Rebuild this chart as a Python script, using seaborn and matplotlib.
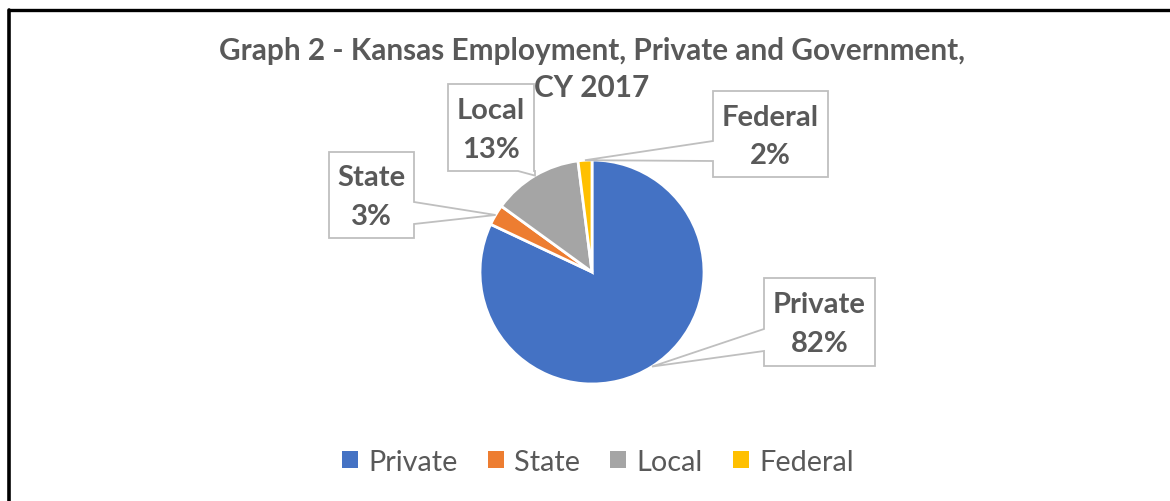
import numpy as np
import matplotlib
matplotlib.use('Agg')
import matplotlib.pyplot as plt
from matplotlib.patches import Polygon
from matplotlib.lines import Line2D
import seaborn as sns

# data
sectors = ['Private', 'State', 'Local', 'Federal']
shares = [82, 3, 13, 2]
colors = ['#4472C4', '#ED7D31', '#A5A5A5', '#FFC000']

title_lines = ['Graph 2 - Kansas Employment, Private and Government,', 'CY 2017']

sns.set_theme(style='white')
plt.rcParams['font.family'] = ['Lato', 'DejaVu Sans']
text_color = '#595959'

W, H = 1170, 502
fig = plt.figure(figsize=(W / 100, H / 100), dpi=100)
fig.patch.set_facecolor('white')

# pie axes: square box in pixels so aspect stays put
cx, cy, r = 592, 273, 112
ax = fig.add_axes([(cx - r) / W, (H - cy - r) / H, 2 * r / W, 2 * r / H])
wedges, _ = ax.pie(shares, colors=colors, startangle=90, counterclock=False,
                   wedgeprops=dict(edgecolor='white', linewidth=2))
ax.set_xlim(-1, 1)
ax.set_ylim(-1, 1)
ax.axis('off')

# overlay in pixel coordinates (y down) for title, callouts, border
ov = fig.add_axes([0, 0, 1, 1], zorder=5)
ov.set_xlim(0, W)
ov.set_ylim(H, 0)
ov.axis('off')

ov.text(592, 60, title_lines[0], ha='center', va='baseline', fontsize=21.4,
        fontweight='bold', color=text_color)
ov.text(592, 97, title_lines[1], ha='center', va='baseline', fontsize=21.4,
        fontweight='bold', color=text_color)

# callout boxes: (left, top, right, bottom), side of the pointer, pointer base span
boxes = {
    'Private': ((764, 279, 875, 367), 'left', (330, 352)),
    'State': ((329, 153, 414, 239), 'right', (203, 225)),
    'Local': ((448, 85, 534, 172), 'bottom', (518, 535)),
    'Federal': ((713, 92, 828, 178), 'left', (142, 162)),
}

to_px = ax.transData + ov.transData.inverted()
for w, name, val in zip(wedges, sectors, shares):
    mid = np.deg2rad((w.theta1 + w.theta2) / 2)
    tip = to_px.transform((w.r * np.cos(mid), w.r * np.sin(mid)))
    (l, t, rr, b), side, (p0, p1) = boxes[name]
    if side == 'left':
        pts = [(l, t), (rr, t), (rr, b), (l, b), (l, p1), tip, (l, p0)]
    elif side == 'right':
        pts = [(l, t), (rr, t), (rr, p0), tip, (rr, p1), (rr, b), (l, b)]
    else:
        pts = [(l, t), (rr, t), (rr, b), (p1, b), tip, (p0, b), (l, b)]
    ov.add_patch(Polygon(pts, closed=True, facecolor='white', edgecolor='#BFBFBF',
                         linewidth=1.3, zorder=3))
    mx, my = (l + rr) / 2, (t + b) / 2
    ov.text(mx, my - 9.5, name, ha='center', va='baseline', fontsize=21,
            fontweight='bold', color=text_color, zorder=4)
    ov.text(mx, my + 29.5, f'{val}%', ha='center', va='baseline', fontsize=21,
            fontweight='bold', color=text_color, zorder=4)

# legend
leg = ov.legend(wedges, sectors, loc='center', bbox_to_anchor=(598, 463),
                bbox_transform=ov.transData, ncol=4, frameon=False, fontsize=20.8,
                handlelength=0.55, handleheight=0.55, handletextpad=0.35,
                columnspacing=1.05)
for t in leg.get_texts():
    t.set_color(text_color)
for h in leg.legend_handles:
    h.set_linewidth(0)

# chart border
ov.add_line(Line2D([9, 9], [11, H], color='black', linewidth=2.6))
ov.add_line(Line2D([9, W], [11, 11], color='black', linewidth=2.4))

fig.savefig('out.png', dpi=100)
